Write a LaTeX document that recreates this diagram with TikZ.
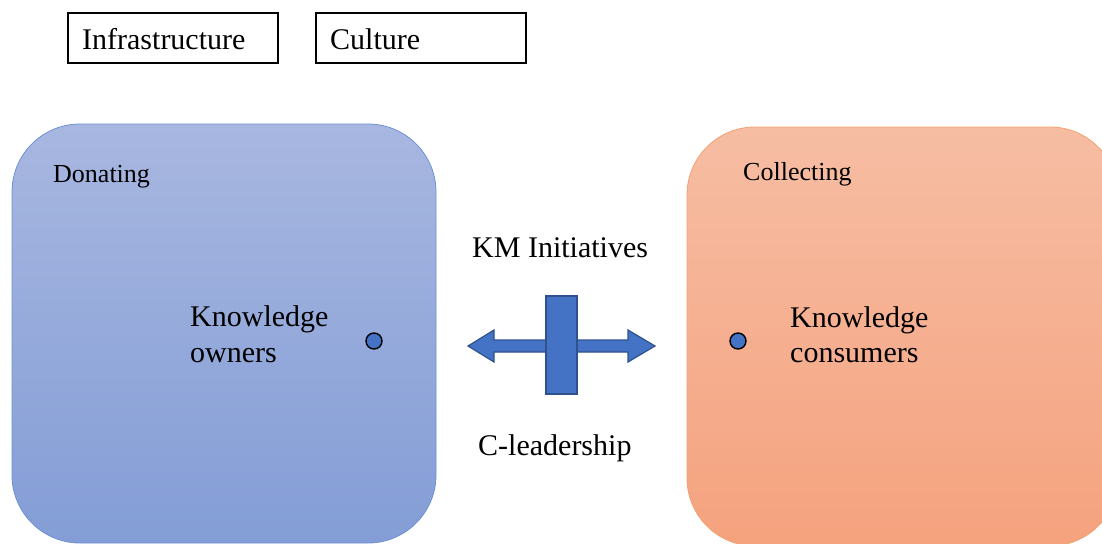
\documentclass[tikz,border=0pt]{standalone}
\usepackage{fontspec}
\setmainfont{Liberation Serif}
\begin{document}
\begin{tikzpicture}[x=1pt,y=-1pt,
  every node/.style={inner sep=0pt, font=\fontsize{30}{36}\selectfont},
  small/.style={font=\fontsize{26}{31}\selectfont},
  tagbox/.style={draw=black, line width=1.1pt},
  area/.style={rounded corners=68pt, line width=0.8pt},
  marker/.style={circle, draw=black, fill=dotblue, line width=1.4pt, minimum size=16pt},
  bluebody/.style={fill=dotblue, draw=edgeblue, line width=1.2pt, line join=miter}]
\definecolor{dotblue}{HTML}{4472C4}
\definecolor{edgeblue}{HTML}{2F528F}
\definecolor{bluetop}{HTML}{A8B7E0}
\definecolor{bluebot}{HTML}{839DD6}
\definecolor{blueline}{HTML}{6E8FD4}
\definecolor{orangetop}{HTML}{F6BDA3}
\definecolor{orangebot}{HTML}{F5A27E}
\definecolor{orangeline}{HTML}{F2A271}
\useasboundingbox (0,0) rectangle (1102,543);
\clip (0,0) rectangle (1102,543);

% label boxes at the top
\draw[tagbox] (68,13) rectangle (278,63);
\node[anchor=base west] (infra) at (82,49) {Infrastructure};
\draw[tagbox] (316,13) rectangle (526,63);
\node[anchor=base west] (culture) at (330,49) {Culture};

% the two rounded areas
\draw[area, draw=blueline, top color=bluetop, bottom color=bluebot]
  (12,124) rectangle (436,543);
\draw[area, draw=orangeline, top color=orangetop, bottom color=orangebot]
  (687,127) rectangle (1118,546);

\node[small, anchor=base west] (donating) at (53,182) {Donating};
\node[small, anchor=base west] (collecting) at (743,180) {Collecting};

\node[anchor=base west] (owners1) at (190,326) {Knowledge};
\node[anchor=base west] (owners2) at (190,362) {owners};
\node[anchor=base west] (cons1) at (790,327) {Knowledge};
\node[anchor=base west] (cons2) at (790,362) {consumers};

\node[marker] (dotL) at (374,341) {};
\node[marker] (dotR) at (738,341) {};

% double-headed arrow crossed by a bar
\draw[bluebody] (468,346) -- (494,330) -- (494,340) -- (628,340) -- (628,330)
  -- (655,346) -- (628,362) -- (628,352) -- (494,352) -- (494,362) -- cycle;
\draw[bluebody] (546,296) rectangle (577,394);

\node[anchor=base west] (km) at (472,257) {KM Initiatives};
\node[anchor=base west] (lead) at (478,455) {C-leadership};
\end{tikzpicture}
\end{document}
